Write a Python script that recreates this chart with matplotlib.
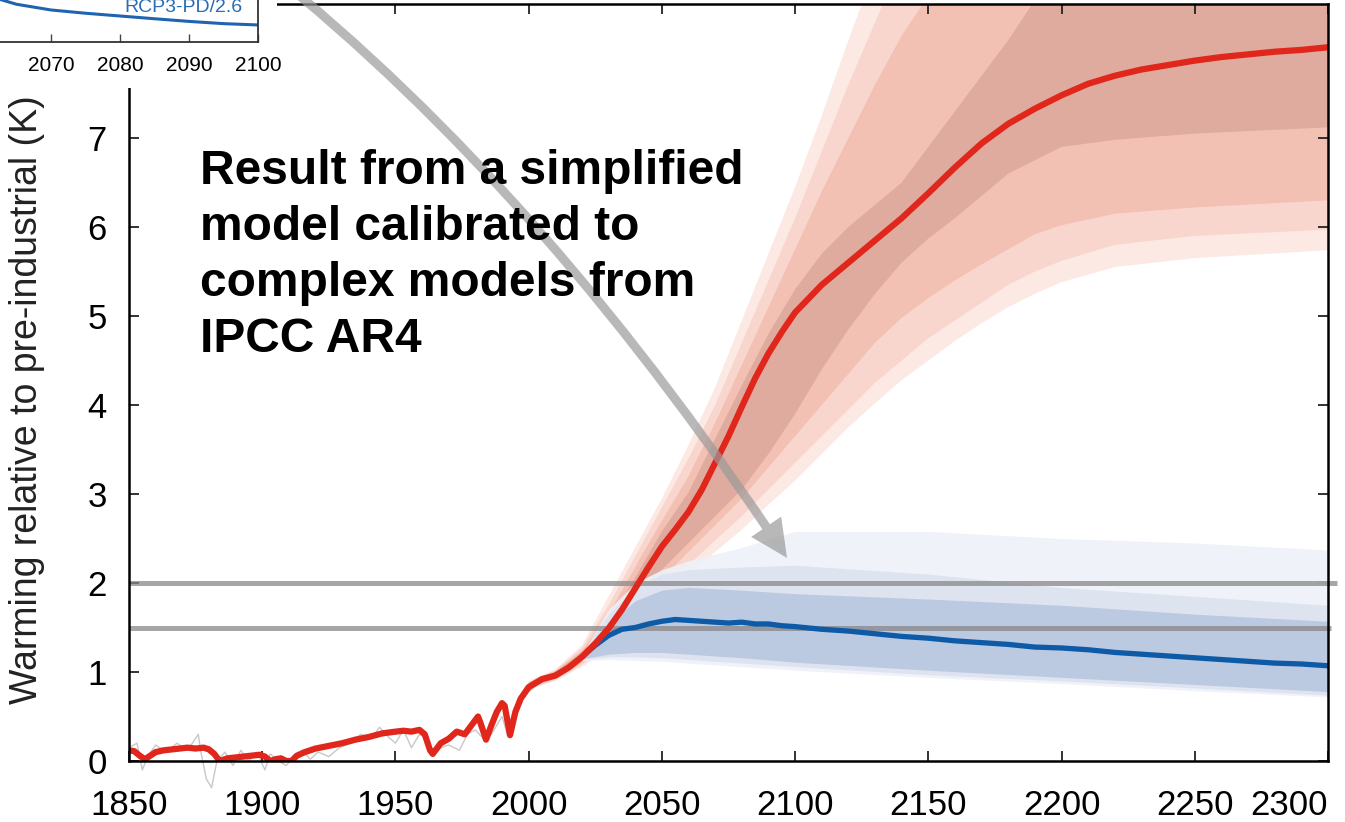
import matplotlib
matplotlib.use("Agg")
import matplotlib.pyplot as plt
from matplotlib.patches import Rectangle, FancyArrowPatch
from matplotlib.path import Path

plt.rcParams['font.family'] = ['Liberation Sans', 'DejaVu Sans']

# ---------------- data ----------------
HIST_YEARS = [1850, 1852, 1854, 1856, 1858, 1860, 1863, 1866, 1869, 1872, 1875, 1878,
              1880, 1882, 1884, 1887, 1890, 1893, 1896, 1899, 1901, 1903, 1905, 1907,
              1909, 1911, 1913, 1916, 1920, 1925, 1930, 1935, 1940, 1945, 1950, 1953,
              1956, 1959, 1961, 1963, 1964, 1967, 1970, 1973, 1976, 1979, 1981, 1982,
              1984, 1986, 1988, 1990, 1991, 1993, 1995, 1997, 2000]
HIST_T = [0.12, 0.11, 0.06, 0.02, 0.06, 0.10, 0.12, 0.13, 0.14, 0.15, 0.14, 0.15,
          0.13, 0.08, 0.00, 0.03, 0.04, 0.05, 0.06, 0.07, 0.05, 0.00, 0.02, 0.03,
          0.00, 0.00, 0.06, 0.10, 0.14, 0.17, 0.20, 0.24, 0.27, 0.31, 0.33, 0.34,
          0.33, 0.35, 0.30, 0.12, 0.08, 0.20, 0.25, 0.33, 0.30, 0.42, 0.50, 0.42,
          0.24, 0.40, 0.55, 0.65, 0.62, 0.29, 0.55, 0.70, 0.83]

RED_YEARS = [2005, 2010, 2015, 2020, 2025, 2030, 2035, 2040, 2045, 2050, 2055, 2060,
             2065, 2070, 2075, 2080, 2085, 2090, 2095, 2100, 2110, 2120, 2130, 2140,
             2150, 2160, 2170, 2180, 2190, 2200, 2210, 2220, 2230, 2240, 2250, 2260,
             2270, 2280, 2290, 2300]
RED_T = [0.92, 0.96, 1.05, 1.17, 1.32, 1.49, 1.70, 1.94, 2.18, 2.41, 2.60, 2.80,
         3.05, 3.35, 3.65, 3.98, 4.30, 4.58, 4.82, 5.04, 5.35, 5.60, 5.85, 6.10,
         6.38, 6.67, 6.94, 7.16, 7.33, 7.48, 7.61, 7.70, 7.77, 7.82, 7.87, 7.91,
         7.94, 7.97, 7.99, 8.02]

BLUE_YEARS = [2020, 2025, 2030, 2035, 2040, 2045, 2050, 2055, 2060, 2065, 2070, 2075,
              2080, 2085, 2090, 2095, 2100, 2110, 2120, 2130, 2140, 2150, 2160, 2170,
              2180, 2190, 2200, 2210, 2220, 2230, 2240, 2250, 2260, 2270, 2280, 2290, 2300]
BLUE_T = [1.17, 1.30, 1.41, 1.48, 1.50, 1.54, 1.57, 1.59, 1.58, 1.57, 1.56, 1.55,
          1.56, 1.54, 1.54, 1.52, 1.51, 1.48, 1.46, 1.43, 1.40, 1.38, 1.35, 1.33,
          1.31, 1.28, 1.27, 1.25, 1.22, 1.20, 1.18, 1.16, 1.14, 1.12, 1.10, 1.09, 1.07]

# red uncertainty bands (lightest outer -> darkest inner)
RB_YEARS = [2000, 2010, 2020, 2030, 2040, 2050, 2060, 2070, 2080, 2090, 2100, 2110,
            2120, 2130, 2140, 2150, 2160, 2170, 2180, 2190, 2200, 2220, 2250, 2300]
R_LS_UP = [0.90, 1.03, 1.30, 1.85, 2.40, 2.95, 3.55, 4.20, 4.95, 5.70, 6.45, 7.25,
           8.10, 8.90, 9.50, 9.80, 10.0, 10.0, 10.0, 10.0, 10.0, 10.2, 10.4, 10.5]
R_LT_UP = [0.89, 1.02, 1.27, 1.75, 2.30, 2.85, 3.40, 4.00, 4.70, 5.40, 6.10, 6.85,
           7.60, 8.30, 9.00, 9.50, 9.80, 10.0, 10.0, 10.0, 10.0, 10.2, 10.4, 10.5]
R_M_UP = [0.88, 1.01, 1.24, 1.65, 2.18, 2.70, 3.20, 3.80, 4.45, 5.10, 5.75, 6.40,
          7.00, 7.60, 8.15, 8.60, 9.00, 9.40, 9.70, 9.90, 10.0, 10.2, 10.4, 10.5]
R_D_UP = [0.87, 1.00, 1.22, 1.57, 2.06, 2.58, 3.02, 3.62, 4.22, 4.80, 5.30, 5.70,
          6.00, 6.25, 6.50, 6.90, 7.30, 7.70, 8.10, 8.55, 9.00, 9.50, 10.0, 10.5]
R_D_LO = [0.83, 0.93, 1.13, 1.42, 1.82, 2.15, 2.45, 2.75, 3.05, 3.45, 3.90, 4.40,
          4.85, 5.25, 5.60, 5.87, 6.10, 6.35, 6.60, 6.75, 6.90, 6.98, 7.05, 7.12]
R_M_LO = [0.82, 0.92, 1.10, 1.36, 1.72, 2.05, 2.35, 2.65, 2.95, 3.30, 3.65, 4.00,
          4.35, 4.70, 4.98, 5.20, 5.40, 5.58, 5.75, 5.92, 6.02, 6.15, 6.22, 6.30]
R_LT_LO = [0.81, 0.91, 1.08, 1.30, 1.62, 1.92, 2.20, 2.48, 2.75, 3.05, 3.35, 3.65,
           3.95, 4.25, 4.50, 4.75, 4.95, 5.15, 5.35, 5.50, 5.62, 5.80, 5.90, 5.97]
R_LS_LO = [0.80, 0.90, 1.06, 1.25, 1.55, 1.82, 2.08, 2.35, 2.60, 2.88, 3.15, 3.45,
           3.75, 4.02, 4.28, 4.50, 4.72, 4.92, 5.10, 5.25, 5.38, 5.55, 5.65, 5.74]

# blue uncertainty bands
BB_YEARS = [2020, 2030, 2040, 2050, 2060, 2080, 2100, 2150, 2200, 2250, 2300]
B1_UP = [1.20, 1.70, 2.00, 2.15, 2.25, 2.40, 2.58, 2.58, 2.50, 2.45, 2.37]
B2_UP = [1.20, 1.65, 1.95, 2.10, 2.15, 2.18, 2.20, 2.10, 1.95, 1.85, 1.75]
B3_UP = [1.20, 1.55, 1.80, 1.92, 1.95, 1.92, 1.88, 1.82, 1.75, 1.65, 1.57]
B3_LO = [1.15, 1.20, 1.22, 1.22, 1.20, 1.16, 1.11, 1.02, 0.94, 0.86, 0.78]
B2_LO = [1.14, 1.17, 1.17, 1.16, 1.14, 1.10, 1.06, 0.97, 0.90, 0.82, 0.74]
B1_LO = [1.13, 1.14, 1.13, 1.12, 1.10, 1.06, 1.02, 0.94, 0.87, 0.79, 0.72]

# faint observational record
OBS_YEARS = [1850, 1853, 1855, 1857, 1860, 1864, 1868, 1872, 1876, 1877, 1879, 1881,
             1883, 1886, 1889, 1892, 1895, 1898, 1901, 1903, 1906, 1909, 1912, 1915,
             1918, 1921, 1925, 1929, 1933, 1937, 1941, 1944, 1947, 1950, 1953, 1956,
             1959, 1962, 1964, 1967, 1970, 1974, 1977, 1980, 1983, 1986, 1990, 1992,
             1995, 1998, 2001, 2005, 2010]
OBS_T = [0.15, 0.20, -0.10, 0.05, 0.18, 0.10, 0.20, 0.12, 0.30, 0.10, -0.20, -0.30,
         0.00, 0.10, -0.05, 0.12, 0.00, 0.10, -0.10, 0.08, 0.00, -0.05, 0.05, 0.12,
         0.02, 0.10, 0.05, 0.15, 0.20, 0.30, 0.25, 0.38, 0.28, 0.20, 0.35, 0.15,
         0.30, 0.25, 0.05, 0.15, 0.18, 0.12, 0.30, 0.35, 0.25, 0.30, 0.50, 0.30,
         0.50, 0.75, 0.80, 0.90, 0.95]

THRESHOLDS = [2.0, 1.5]
THRESH_END = [2303.5, 2301.0]

X_TICKS = [1850, 1900, 1950, 2000, 2050, 2100, 2150, 2200, 2250, 2300]
Y_TICKS = [0, 1, 2, 3, 4, 5, 6, 7, 8]
Y_TICK_LABELS = ['0', '1', '2', '3', '4', '5', '6', '7', '']
Y_LABEL = "Warming relative to pre-industrial (K)"
NOTE = "Result from a simplified\nmodel calibrated to\ncomplex models from\nIPCC AR4"

INSET_YEARS = [2060, 2065, 2070, 2075, 2080, 2085, 2090, 2095, 2100]
INSET_VALS = [1.47, 1.37, 1.314, 1.282, 1.255, 1.228, 1.202, 1.18, 1.167]
INSET_TICKS = [2070, 2080, 2090, 2100]
INSET_LABEL = "RCP3-PD/2.6"

# ---------------- figure ----------------
W, H = 1345, 822
fig = plt.figure(figsize=(W / 100, H / 100), dpi=100)
ax = fig.add_axes([129 / W, 1 - 761 / H, (1328 - 129) / W, (761 - 4) / H])
ax.set_xlim(1850, 2300)
ax.set_ylim(0, 8.506)

# red bands
red_cols = ['#fce9e4', '#f9d6cd', '#f3c0b4', '#dfab9f']
for up, lo, c in zip([R_LS_UP, R_LT_UP, R_M_UP, R_D_UP],
                     [R_LS_LO, R_LT_LO, R_M_LO, R_D_LO], red_cols):
    ax.fill_between(RB_YEARS, lo, up, color=c, lw=0, zorder=1)

# blue bands
blue_cols = ['#eef1f8', '#dce3f0', '#b9c7e0']
for up, lo, c in zip([B1_UP, B2_UP, B3_UP], [B1_LO, B2_LO, B3_LO], blue_cols):
    ax.fill_between(BB_YEARS, lo, up, color=c, lw=0, alpha=0.92, zorder=2)

# observations
ax.plot(OBS_YEARS, OBS_T, color='#c8c8c8', lw=1.0, zorder=2.5, clip_on=False)

# thresholds
for t, xe in zip(THRESHOLDS, THRESH_END):
    ax.plot([1850, xe], [t, t], color='#888888', alpha=0.75, lw=3.6,
            solid_capstyle='butt', zorder=3, clip_on=False)

# lines
ax.plot(BLUE_YEARS, BLUE_T, color='#0d5aa7', lw=3.8, zorder=4,
        solid_capstyle='round')
ax.plot(HIST_YEARS + RED_YEARS, HIST_T + RED_T, color='#e1261c', lw=4.5, zorder=5,
        solid_capstyle='round', solid_joinstyle='round')

# axes style
for s in ax.spines.values():
    s.set_linewidth(1.8)
    s.set_zorder(6)
ax.set_xticks(X_TICKS)
ax.set_yticks(Y_TICKS)
ax.set_yticklabels(Y_TICK_LABELS)
ax.tick_params(direction='in', length=7, width=1.3, top=True, right=True,
               labelsize=25, color='#222222')
ax.tick_params(axis='x', pad=20)
ax.tick_params(axis='y', pad=16)
ax.get_xticklabels()[-1].set_horizontalalignment('right')
ax.set_ylabel(Y_LABEL, fontsize=27, color='#222222')
ax.yaxis.set_label_coords(-0.07, 0.477)

# annotation text (anchored at baseline of last line)
ax.text((200 - 129) / 1199, (761 - 352) / 757, NOTE, transform=ax.transAxes,
        fontsize=34.5, fontweight='bold', ha='left', va='baseline',
        linespacing=1.31, color='black', zorder=9)

# curved arrow (quadratic Bezier in axes fraction)
arrow_path = Path([(0.0842, 1.0845), (0.3328, 0.7860), (0.5488, 0.2682)],
                  [Path.MOVETO, Path.CURVE3, Path.CURVE3])
arr = FancyArrowPatch(path=arrow_path, transform=ax.transAxes,
                      arrowstyle="simple,head_length=27,head_width=26,tail_width=6.5",
                      mutation_scale=1, color='#9a9a9a', alpha=0.7, lw=0,
                      clip_on=False, zorder=8)
ax.add_patch(arr)

# white box behind the inset
fig.patches.append(Rectangle((0, 1 - 88 / H), 277 / W, 88 / H,
                             transform=fig.transFigure, facecolor='white',
                             edgecolor='none', zorder=5))

# inset
ax_in = fig.add_axes([-90 / W, 1 - 42 / H, 348 / W, 102 / H], zorder=10)
ax_in.set_facecolor('white')
ax_in.set_xlim(2100 - 348 / 6.9, 2100)
ax_in.set_ylim(1.0, 2.0)
ax_in.plot(INSET_YEARS, INSET_VALS, color='#1f64b0', lw=2.2)
ax_in.text(2097.7, 1.294, INSET_LABEL, color='#2a6cb5', fontsize=14,
           ha='right', va='baseline')
ax_in.set_xticks(INSET_TICKS)
ax_in.set_yticks([])
ax_in.tick_params(axis='x', direction='in', length=6, width=1.0, labelsize=15,
                  pad=10, color='#444444')
for s in ax_in.spines.values():
    s.set_linewidth(1.3)
    s.set_color('#333333')

fig.savefig('out.png', dpi=100)
